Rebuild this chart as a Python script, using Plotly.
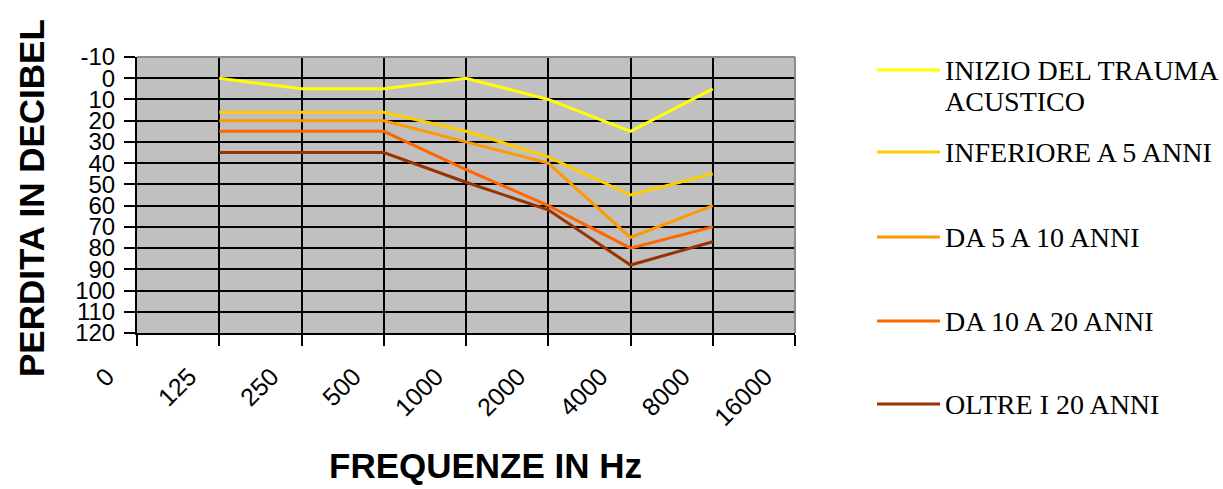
import plotly.graph_objects as go

# Frequency categories on the x axis (index positions 0..8)
frequencies = ["0", "125", "250", "500", "1000", "2000", "4000", "8000", "16000"]
measured = ["125", "250", "500", "1000", "2000", "4000", "8000"]

# Hearing loss in dB for each exposure group
inizio = [0, 5, 5, 0, 10, 25, 5]
inferiore_5 = [16, 16, 16, 25, 37, 55, 45]
da_5_a_10 = [20, 20, 20, 30, 40, 75, 60]
da_10_a_20 = [25, 25, 25, 43, 60, 80, 70]
oltre_20 = [35, 35, 35, 49, 62, 88, 77]

series_names = [
    "INIZIO DEL TRAUMA<br>ACUSTICO",
    "INFERIORE A 5 ANNI",
    "DA 5 A 10 ANNI",
    "DA 10 A 20 ANNI",
    "OLTRE I 20 ANNI",
]
series_values = [inizio, inferiore_5, da_5_a_10, da_10_a_20, oltre_20]
series_colors = ["#FFFF00", "#FFCC00", "#FF9900", "#FF6600", "#993300"]

y_ticks = list(range(-10, 121, 10))

W, H = 1223, 489
L, R, T, B = 137, 795, 57, 333  # plot area in pixels

x_pos = [frequencies.index(f) for f in measured]

fig = go.Figure()
for name, vals, col in zip(series_names, series_values, series_colors):
    fig.add_trace(go.Scatter(
        x=x_pos, y=vals, mode="lines", name=name.replace("<br>", " "),
        line=dict(color=col, width=3), showlegend=False,
    ))


def px_x(px):
    return (px - L) / (R - L)


def px_y(py):
    return (B - py) / (B - T)


shapes = [
    # light grey frame on the top and right edges of the plot area
    dict(type="line", xref="x domain", yref="y domain", x0=0, x1=1, y0=1, y1=1,
         line=dict(color="#8c8c8c", width=2), layer="above"),
    dict(type="line", xref="x domain", yref="y domain", x0=1, x1=1, y0=0, y1=1,
         line=dict(color="#8c8c8c", width=2), layer="above"),
]
annotations = []

# Legend drawn at fixed positions on the right
legend_rows = [70, 152, 237, 321, 404]
line_gap = 32
for name, col, row in zip(series_names, series_colors, legend_rows):
    shapes.append(dict(type="line", xref="paper", yref="paper",
                       x0=px_x(877), x1=px_x(940), y0=px_y(row), y1=px_y(row),
                       line=dict(color=col, width=3)))
    for i, part in enumerate(name.split("<br>")):
        annotations.append(dict(
            text=part, xref="paper", yref="paper",
            x=px_x(943), y=px_y(row + i * line_gap),
            xanchor="left", yanchor="middle", showarrow=False, align="left",
            font=dict(family="Liberation Serif", size=28, color="black"),
        ))

annotations.append(dict(
    text="<b>PERDITA IN DECIBEL</b>", xref="paper", yref="paper",
    x=px_x(31), y=px_y(198), textangle=-90, showarrow=False,
    xanchor="center", yanchor="middle",
    font=dict(family="Liberation Sans", size=35, color="black"),
))
annotations.append(dict(
    text="<b>FREQUENZE IN Hz</b>", xref="paper", yref="paper",
    x=px_x(485), y=px_y(465), showarrow=False,
    xanchor="center", yanchor="middle",
    font=dict(family="Liberation Sans", size=35, color="black"),
))

fig.update_layout(
    width=W, height=H,
    margin=dict(l=L, r=W - R, t=T, b=H - B, pad=0),
    paper_bgcolor="white",
    plot_bgcolor="#C0C0C0",
    shapes=shapes,
    annotations=annotations,
    showlegend=False,
    xaxis=dict(
        range=[0, len(frequencies) - 1],
        tickvals=list(range(len(frequencies))), ticktext=frequencies,
        tickangle=-45, ticks="outside", ticklen=11, tickwidth=2, tickcolor="black",
        showgrid=True, gridcolor="black", gridwidth=2,
        showline=True, linecolor="black", linewidth=2,
        zeroline=False,
        ticklabelstandoff=6, ticklabelshift=-30,
        tickfont=dict(family="Liberation Sans", size=25, color="black"),
    ),
    yaxis=dict(
        range=[120, -10],
        tickvals=y_ticks, ticktext=[str(v) for v in y_ticks],
        ticks="outside", ticklen=11, tickwidth=2, tickcolor="black",
        showgrid=True, gridcolor="black", gridwidth=2,
        showline=True, linecolor="black", linewidth=2,
        zeroline=False,
        ticklabelstandoff=4,
        tickfont=dict(family="Liberation Sans", size=24, color="black"),
    ),
)

fig.write_html("out.html")
